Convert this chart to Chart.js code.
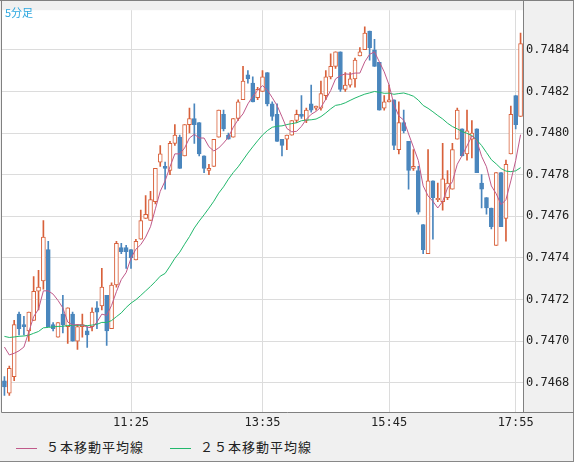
<!DOCTYPE html>
<html><head><meta charset="utf-8">
<script src="https://cdn.jsdelivr.net/npm/chart.js@4"></script>
<style>
body{margin:0;background:#f0f0f0;}
#wrap{position:relative;width:574px;height:462px;background:#f0f0f0;box-sizing:border-box;border-bottom:1px solid #888;border-right:1px solid #888;}
#title{position:absolute;left:5px;top:4px;font:11px "Noto Sans CJK JP",sans-serif;color:#2aa6df;}
#legend{position:absolute;left:16px;top:437px;font:13px "Noto Sans CJK JP",sans-serif;color:#222;letter-spacing:1px;}
#legend span.l{display:inline-block;width:21px;height:1px;vertical-align:middle;margin-right:9px;}
</style></head><body>
<div id="wrap"><canvas id="c" width="574" height="432" style="display:block"></canvas>
<div id="title">5分足</div>
<div id="legend"><span class="l" style="background:#c05a8a"></span>５本移動平均線<span class="l" style="background:#22b86c;margin-left:26px"></span>２５本移動平均線</div>
</div>
<script>
const opens=[0.74681,0.74675,0.74683,0.74713,0.74708,0.74705,0.74710,0.74724,0.74729,0.74744,0.74708,0.74702,0.74713,0.74707,0.74713,0.74700,0.74707,0.74705,0.74707,0.74716,0.74717,0.74722,0.74706,0.74727,0.74745,0.74745,0.74744,0.74739,0.74749,0.74759,0.74758,0.74767,0.74786,0.74784,0.74782,0.74795,0.74798,0.74789,0.74804,0.74807,0.74805,0.74789,0.74782,0.74784,0.74798,0.74809,0.74799,0.74798,0.74807,0.74816,0.74828,0.74824,0.74817,0.74820,0.74829,0.74814,0.74809,0.74797,0.74797,0.74799,0.74806,0.74809,0.74806,0.74814,0.74812,0.74812,0.74818,0.74827,0.74832,0.74839,0.74821,0.74823,0.74826,0.74837,0.74840,0.74849,0.74840,0.74834,0.74812,0.74815,0.74816,0.74792,0.74805,0.74796,0.74783,0.74782,0.74756,0.74742,0.74777,0.74768,0.74767,0.74769,0.74773,0.74797,0.74802,0.74790,0.74797,0.74802,0.74776,0.74769,0.74764,0.74746,0.74781,0.74759,0.74790,0.74818,0.74808];
const highs=[0.74683,0.74688,0.74710,0.74714,0.74712,0.74714,0.74731,0.74734,0.74758,0.74748,0.74709,0.74709,0.74722,0.74716,0.74714,0.74708,0.74713,0.74707,0.74716,0.74719,0.74735,0.74722,0.74728,0.74748,0.74747,0.74746,0.74744,0.74749,0.74763,0.74770,0.74772,0.74783,0.74794,0.74786,0.74796,0.74804,0.74799,0.74804,0.74812,0.74814,0.74805,0.74789,0.74785,0.74797,0.74811,0.74811,0.74800,0.74807,0.74816,0.74832,0.74830,0.74827,0.74822,0.74830,0.74829,0.74815,0.74814,0.74797,0.74799,0.74806,0.74811,0.74818,0.74812,0.74823,0.74813,0.74825,0.74830,0.74838,0.74839,0.74839,0.74829,0.74829,0.74836,0.74841,0.74851,0.74849,0.74845,0.74834,0.74818,0.74823,0.74816,0.74815,0.74811,0.74796,0.74792,0.74784,0.74756,0.74792,0.74777,0.74776,0.74795,0.74782,0.74795,0.74812,0.74802,0.74811,0.74806,0.74802,0.74780,0.74769,0.74764,0.74781,0.74781,0.74787,0.74813,0.74818,0.74848];
const lows=[0.74674,0.74674,0.74681,0.74703,0.74703,0.74700,0.74710,0.74715,0.74725,0.74707,0.74705,0.74702,0.74704,0.74699,0.74700,0.74696,0.74702,0.74697,0.74705,0.74706,0.74715,0.74698,0.74706,0.74726,0.74742,0.74735,0.74735,0.74739,0.74749,0.74759,0.74758,0.74766,0.74784,0.74773,0.74780,0.74794,0.74783,0.74789,0.74800,0.74795,0.74789,0.74781,0.74780,0.74784,0.74798,0.74801,0.74797,0.74798,0.74806,0.74816,0.74824,0.74815,0.74816,0.74820,0.74813,0.74806,0.74796,0.74789,0.74792,0.74799,0.74805,0.74807,0.74805,0.74810,0.74811,0.74811,0.74816,0.74826,0.74831,0.74820,0.74820,0.74822,0.74822,0.74837,0.74840,0.74835,0.74832,0.74811,0.74811,0.74815,0.74792,0.74790,0.74800,0.74773,0.74782,0.74761,0.74742,0.74742,0.74749,0.74767,0.74763,0.74768,0.74773,0.74797,0.74789,0.74787,0.74788,0.74781,0.74764,0.74761,0.74754,0.74746,0.74755,0.74748,0.74790,0.74802,0.74808];
const closes=[0.74678,0.74687,0.74708,0.74706,0.74707,0.74714,0.74724,0.74726,0.74750,0.74707,0.74706,0.74709,0.74708,0.74716,0.74700,0.74707,0.74708,0.74703,0.74714,0.74714,0.74726,0.74705,0.74727,0.74747,0.74743,0.74743,0.74740,0.74748,0.74758,0.74761,0.74768,0.74783,0.74790,0.74783,0.74795,0.74799,0.74783,0.74804,0.74807,0.74804,0.74790,0.74783,0.74783,0.74797,0.74811,0.74802,0.74797,0.74807,0.74815,0.74825,0.74826,0.74815,0.74821,0.74827,0.74814,0.74808,0.74796,0.74794,0.74799,0.74806,0.74809,0.74808,0.74811,0.74811,0.74813,0.74819,0.74827,0.74832,0.74839,0.74821,0.74823,0.74826,0.74835,0.74839,0.74848,0.74841,0.74832,0.74811,0.74815,0.74816,0.74794,0.74805,0.74801,0.74782,0.74784,0.74762,0.74744,0.74777,0.74769,0.74768,0.74778,0.74776,0.74792,0.74811,0.74789,0.74801,0.74800,0.74781,0.74773,0.74764,0.74755,0.74781,0.74755,0.74785,0.74809,0.74804,0.74843];
// closes before the visible window (used for the 25-bar average)
const priorCloses=[0.74700,0.74702,0.74698,0.74703,0.74705,0.74701,0.74704,0.74706,0.74702,0.74700,0.74703,0.74707,0.74705,0.74702,0.74704,0.74706,0.74709,0.74707,0.74705,0.74703,0.74706,0.74704,0.74700,0.74698];
const tickIndex=[26,53,79,105];
const tickLabels=['11:25','13:35','15:45','17:55'];
const yTicks=[0.7468,0.7470,0.7472,0.7474,0.7476,0.7478,0.7480,0.7482,0.7484];

const n=closes.length;
const labels=closes.map((_,i)=>String(i));
const all=priorCloses.concat(closes);
function ma(p){return closes.map((_,i)=>{const j=i+priorCloses.length;let s=0,c=0;for(let k=j-p+1;k<=j;k++){if(k>=0){s+=all[k];c++;}}return s/c;});}
const ma5=ma(5), ma25=ma(25);
const UP='#d8603a', DN='#4a86bd';
const up=closes.map((c,i)=>c>=opens[i]);
const bodies=closes.map((c,i)=>{let a=Math.min(c,opens[i]),b=Math.max(c,opens[i]);if(b-a<0.000006){b=a+0.000006;}return [a,b];});
const wicks=closes.map((c,i)=>[lows[i],highs[i]]);
const bgPlugin={id:'bg',beforeDraw(ch){const a=ch.chartArea,x=ch.ctx;x.save();x.fillStyle='#fff';x.fillRect(a.left,a.top,a.right-a.left,a.bottom-a.top);x.restore();},
afterDraw(ch){const a=ch.chartArea,x=ch.ctx;x.save();x.strokeStyle='#808080';x.lineWidth=1;x.beginPath();x.moveTo(a.left-0.5,0);x.lineTo(a.left-0.5,a.bottom+0.5);x.lineTo(ch.width,a.bottom+0.5);x.moveTo(a.right+0.5,0);x.lineTo(a.right+0.5,a.bottom);x.moveTo(0,0.5);x.lineTo(ch.width,0.5);x.stroke();x.restore();}};
new Chart(document.getElementById('c'),{
 data:{labels,datasets:[
  {type:'line',data:ma5,borderColor:'#c05a8a',borderWidth:1,pointRadius:0,tension:0,order:0},
  {type:'line',data:ma25,borderColor:'#22b86c',borderWidth:1,pointRadius:0,tension:0,order:0},
  {type:'bar',data:bodies,grouped:false,barThickness:4,backgroundColor:up.map(u=>u?'#fff':DN),borderColor:up.map(u=>u?UP:DN),borderWidth:1,borderSkipped:false,order:1},
  {type:'bar',data:wicks,grouped:false,barThickness:1,backgroundColor:up.map(u=>u?UP:DN),borderWidth:0,order:2}
 ]},
 options:{responsive:false,animation:false,
  layout:{padding:{left:2,top:1,right:0,bottom:0}},
  plugins:{legend:{display:false},tooltip:{enabled:false}},
  scales:{
   x:{type:'category',offset:true,border:{display:false},
     grid:{offset:false,drawTicks:false,color:c=>tickIndex.includes(c.index)?'#dcdcdc':'rgba(0,0,0,0)'},
     ticks:{autoSkip:false,maxRotation:0,color:'#222',font:{family:'DejaVu Sans Mono',size:12},padding:4,
       callback:(v,i)=>{const k=tickIndex.indexOf(i);return k>=0?tickLabels[k]:'';}},
     afterFit:s=>{s.height=20;}},
   y:{position:'right',min:0.74666,max:0.74859,border:{display:false},
     grid:{drawTicks:false,color:'#dcdcdc'},
     afterBuildTicks:s=>{s.ticks=yTicks.map(v=>({value:v}));},
     ticks:{color:'#222',font:{family:'DejaVu Sans Mono',size:12},padding:3,callback:v=>v.toFixed(4)},
     afterFit:s=>{s.width=51;}}
  }},
 plugins:[bgPlugin]
});
</script></body></html>
